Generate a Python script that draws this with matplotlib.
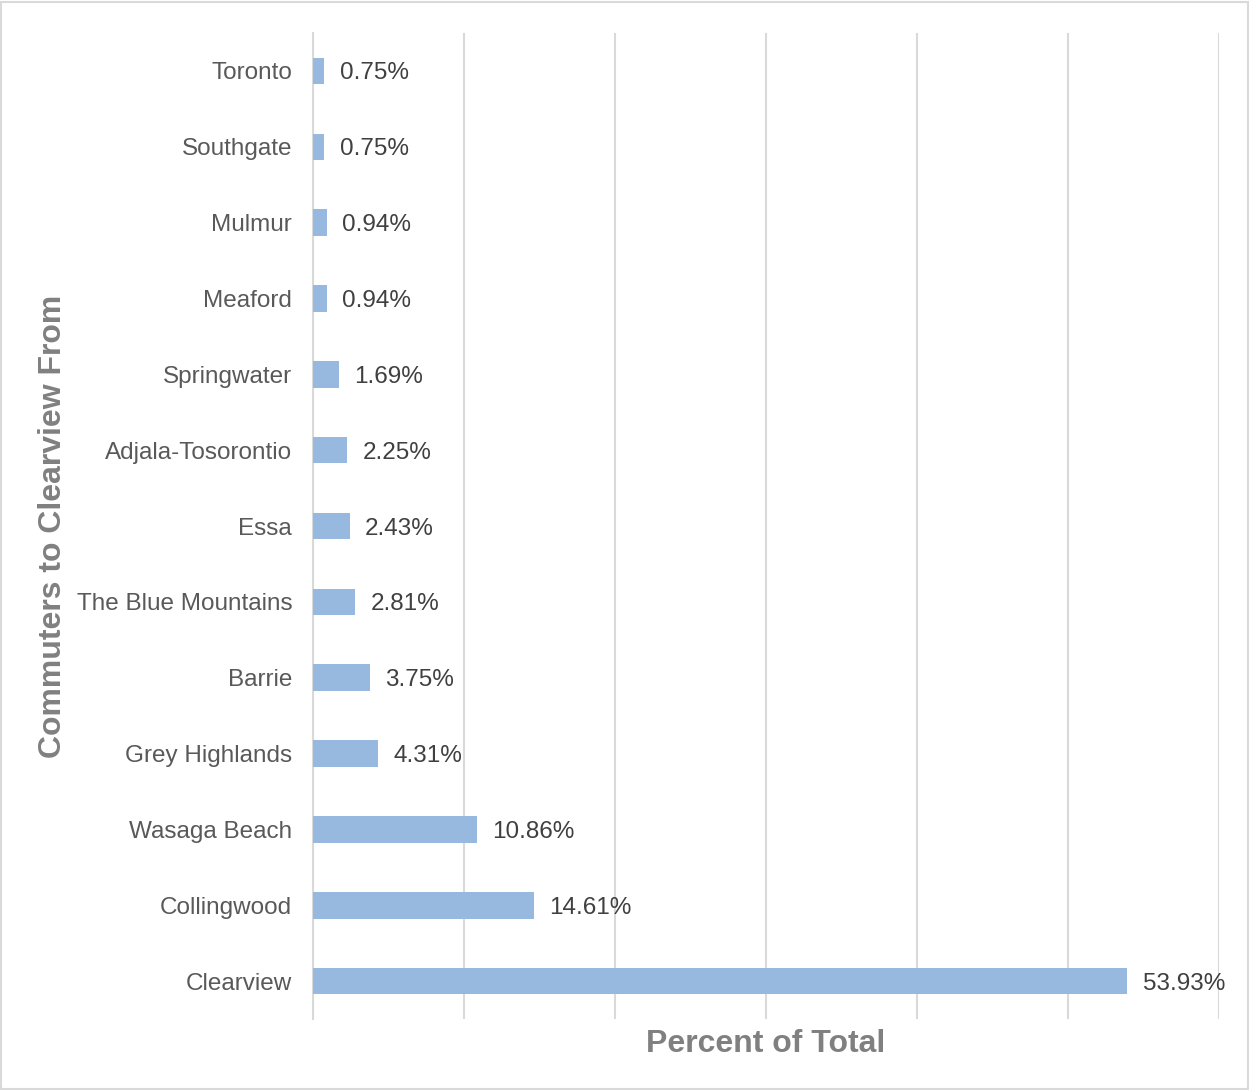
import matplotlib.pyplot as plt
from matplotlib.patches import Rectangle

places = ['Clearview', 'Collingwood', 'Wasaga Beach', 'Grey Highlands', 'Barrie',
          'The Blue Mountains', 'Essa', 'Adjala-Tosorontio', 'Springwater',
          'Meaford', 'Mulmur', 'Southgate', 'Toronto']
pct = [53.93, 14.61, 10.86, 4.31, 3.75, 2.81, 2.43, 2.25, 1.69, 0.94, 0.94, 0.75, 0.75]

plt.rcParams['font.family'] = ['Liberation Sans', 'DejaVu Sans']

fig = plt.figure(figsize=(12.49, 10.90), dpi=100)
ax = fig.add_axes([0.2506, 0.0651, 0.7254, 0.9046])

y = range(len(places))
ax.barh(y, pct, height=0.35, color='#97B9E0', zorder=3)
for i, v in enumerate(pct):
    ax.annotate('%.2f%%' % v, (v, i), xytext=(11, 0), textcoords='offset points',
                va='center_baseline', ha='left', fontsize=17.5, color='#404040')

ax.set_xlim(0, 60)
ax.set_ylim(-0.5, len(places) - 0.5)
ax.set_xticks(range(0, 61, 10))
ax.set_xticklabels([])
ax.tick_params(axis='x', length=0)
ax.tick_params(axis='y', length=0, pad=15, labelsize=17.5, labelcolor='#595959')
ax.set_yticks(list(y))
ax.set_yticklabels(places)
ax.grid(axis='x', color='#D9D9D9', linewidth=1.5, zorder=0)
for s in ['top', 'right', 'bottom']:
    ax.spines[s].set_visible(False)
ax.spines['left'].set_color('#D9D9D9')
ax.spines['left'].set_linewidth(1.5)

ax.set_xlabel('Percent of Total', fontsize=23, fontweight='bold', color='#808080', labelpad=4)
ax.set_ylabel('Commuters to Clearview From', fontsize=23, fontweight='bold', color='#808080', labelpad=6)

fig.patches.append(Rectangle((0.001, 0.001), 0.998, 0.997, transform=fig.transFigure,
                             fill=False, edgecolor='#D9D9D9', linewidth=1.5))

fig.savefig('out.png', dpi=100)
